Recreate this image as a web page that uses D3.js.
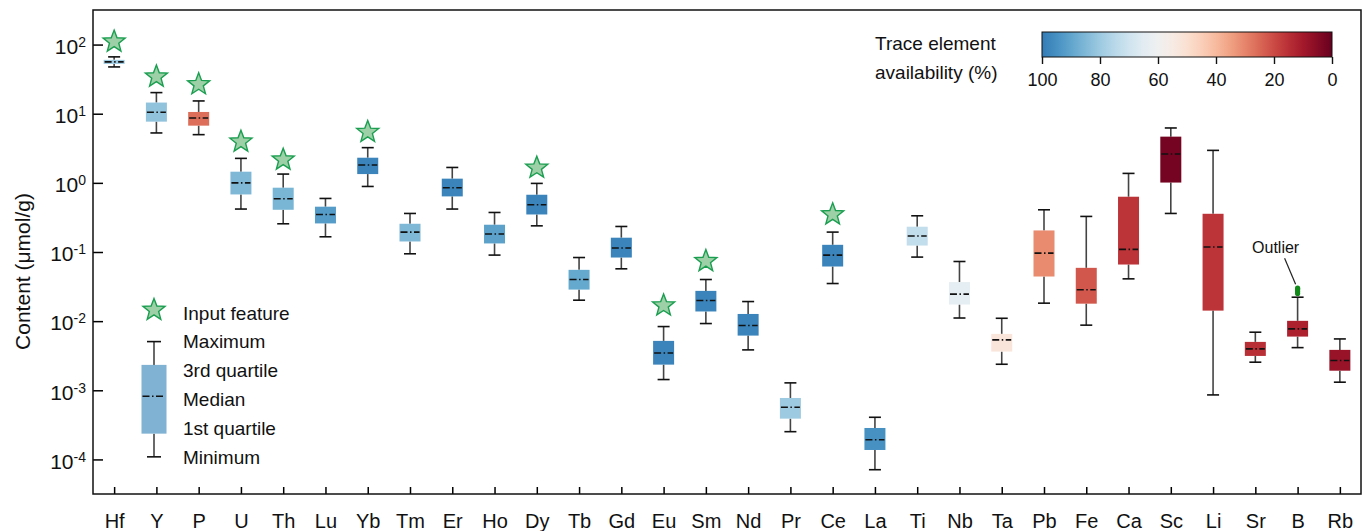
<!DOCTYPE html>
<html>
<head>
<meta charset="utf-8">
<script src="https://cdn.jsdelivr.net/npm/d3@7"></script>
<style>
  body { margin: 0; background: #fff; }
  text { font-family: "Liberation Sans", Arial, Helvetica, sans-serif; fill: #111; }
</style>
</head>
<body>
<svg id="chart" width="1371" height="531"></svg>
<script>
// Trace element contents (µmol/g): five-number summaries per element
const elements = ["Hf","Y","P","U","Th","Lu","Yb","Tm","Er","Ho","Dy","Tb","Gd","Eu","Sm",
                  "Nd","Pr","Ce","La","Ti","Nb","Ta","Pb","Fe","Ca","Sc","Li","Sr","B","Rb"];
const minima  = [47.5, 5.27, 4.98, 0.418, 0.256, 0.166, 0.887, 0.0942, 0.418, 0.0902, 0.239, 0.0201,
                 0.0571, 0.00143, 0.00923, 0.00384, 0.000252, 0.0350, 0.0000710, 0.0844, 0.0111,
                 0.00238, 0.0182, 0.00875, 0.0409, 0.361, 0.000857, 0.00255, 0.00414, 0.00131];
const q1s     = [52.5, 7.68, 6.72, 0.680, 0.408, 0.259, 1.34, 0.142, 0.637, 0.133, 0.349, 0.0286,
                 0.0832, 0.00235, 0.0138, 0.00618, 0.000389, 0.0617, 0.000137, 0.124, 0.0174,
                 0.00363, 0.0442, 0.0179, 0.0659, 1.01, 0.0142, 0.00314, 0.00598, 0.00192];
const medians = [56.2, 10.5, 8.69, 1.00, 0.589, 0.349, 1.81, 0.194, 0.851, 0.182, 0.483, 0.0400,
                 0.114, 0.00347, 0.0199, 0.00863, 0.000568, 0.0902, 0.000193, 0.170, 0.0246,
                 0.00536, 0.0964, 0.0284, 0.109, 2.62, 0.118, 0.00397, 0.00773, 0.00269];
const q3s     = [60.1, 14.5, 10.6, 1.45, 0.851, 0.452, 2.31, 0.256, 1.15, 0.248, 0.673, 0.0552,
                 0.161, 0.00518, 0.0274, 0.0127, 0.000774, 0.127, 0.000285, 0.232, 0.0367,
                 0.00654, 0.205, 0.0590, 0.630, 4.66, 0.357, 0.00501, 0.0101, 0.00384];
const maxima  = [66.4, 20.2, 15.3, 2.26, 1.34, 0.595, 3.23, 0.361, 1.67, 0.373, 0.982, 0.0832,
                 0.234, 0.00835, 0.0400, 0.0192, 0.00128, 0.194, 0.000407, 0.334, 0.0729,
                 0.0110, 0.408, 0.327, 1.37, 6.22, 2.95, 0.00692, 0.0222, 0.00553];
// Trace element availability (%) used to colour each box
const availability = [80, 82, 26, 85, 86, 92, 98, 85, 98, 91, 98, 89, 98, 98, 98,
                      98, 80, 98, 95, 73, 64, 52, 31, 22, 16, 2, 16, 15, 12, 8];

// Elements used as model input features, marked with a star
const featureElements = ["Hf","Y","P","U","Th","Yb","Dy","Eu","Sm","Ce"];
const featureMarks    = [110, 34.3, 26.6, 3.93, 2.16, 5.43, 1.65, 0.0168, 0.0736, 0.349];

// Outlying samples of B
const outlierElement = "B";
const outlierValues = [0.0252, 0.0268, 0.0285, 0.0300];

// Legend sample box
const legendSample = { min: 0.000109, q1: 0.000236, med: 0.00082, q3: 0.00233, max: 0.00506 };
const legendLabels = ["Input feature","Maximum","3rd quartile","Median","1st quartile","Minimum"];

const yTickExponents = [-4, -3, -2, -1, 0, 1, 2];
const availabilityTicks = [100, 80, 60, 40, 20, 0];

// ---- layout
const W = 1371, H = 531;
const plotL = 93, plotR = 1361, plotT = 10, plotB = 494;
const svg = d3.select("#chart");
svg.append("rect").attr("width", W).attr("height", H).attr("fill", "#fff");

const x = d3.scalePoint().domain(elements).range([plotL, plotR]).padding(0.5);
const y = d3.scaleLog().domain([Math.pow(10, -4.5), Math.pow(10, 2.5)]).range([plotB, plotT]);
const avColor = a => d3.interpolateRdBu(0.85 * a / 100);

const boxW = 21, capW = 12;

// ---- axes
const yAxis = svg.append("g")
  .attr("transform", `translate(${plotL},0)`)
  .call(d3.axisLeft(y).tickValues(yTickExponents.map(e => Math.pow(10, e)))
        .tickSize(-10).tickPadding(7).tickFormat(""));
yAxis.select(".domain").remove();
yAxis.selectAll(".tick line").attr("stroke", "#000").attr("stroke-width", 1.5);
yAxis.selectAll(".tick text").each(function(d) {
  const t = d3.select(this).attr("font-size", 21).attr("dy", "0.42em").attr("fill", "#111");
  t.text(null);
  t.append("tspan").text("10");
  t.append("tspan").attr("dy", -7).attr("font-size", 14).text(Math.round(Math.log10(d)));
});

const xAxis = svg.append("g")
  .attr("transform", `translate(0,${plotB})`)
  .call(d3.axisBottom(x).tickSize(-7).tickPadding(20));
xAxis.select(".domain").remove();
xAxis.selectAll(".tick line").attr("stroke", "#000").attr("stroke-width", 1.5);
xAxis.selectAll(".tick text").attr("font-size", 20).attr("fill", "#111");

svg.append("rect")
  .attr("x", plotL).attr("y", plotT).attr("width", plotR - plotL).attr("height", plotB - plotT)
  .attr("fill", "none").attr("stroke", "#111").attr("stroke-width", 1.5);

svg.append("text")
  .attr("transform", `translate(30,${(193 + 350) / 2}) rotate(-90)`)
  .attr("text-anchor", "middle").attr("font-size", 21)
  .text("Content (\u03bcmol/g)");

// ---- box plots
function drawBox(g, cx, s, fill, bw, cw) {
  g.append("line").attr("x1", cx).attr("x2", cx).attr("y1", y(s.max)).attr("y2", y(s.q3))
    .attr("stroke", "#444").attr("stroke-width", 1.6);
  g.append("line").attr("x1", cx).attr("x2", cx).attr("y1", y(s.q1)).attr("y2", y(s.min))
    .attr("stroke", "#444").attr("stroke-width", 1.6);
  [s.max, s.min].forEach(v => {
    g.append("line").attr("x1", cx - cw / 2).attr("x2", cx + cw / 2).attr("y1", y(v)).attr("y2", y(v))
      .attr("stroke", "#111").attr("stroke-width", 1.6);
  });
  g.append("rect").attr("x", cx - bw / 2).attr("width", bw)
    .attr("y", y(s.q3)).attr("height", y(s.q1) - y(s.q3)).attr("fill", fill);
  g.append("line").attr("x1", cx - bw / 2 + 1).attr("x2", cx + bw / 2 - 1)
    .attr("y1", y(s.med)).attr("y2", y(s.med))
    .attr("stroke", "#111").attr("stroke-width", 1.6)
    .attr("stroke-dasharray", "7,2.5,1.5,2.5");
}

const boxes = svg.append("g");
elements.forEach((el, i) => {
  drawBox(boxes.append("g"), x(el),
    { min: minima[i], q1: q1s[i], med: medians[i], q3: q3s[i], max: maxima[i] },
    avColor(availability[i]), boxW, capW);
});

// ---- stars for input features
function starPath(R, r) {
  const pts = [];
  for (let k = 0; k < 10; k++) {
    const a = -Math.PI / 2 + k * Math.PI / 5;
    const rad = k % 2 === 0 ? R : r;
    pts.push([rad * Math.cos(a), rad * Math.sin(a)]);
  }
  return "M" + pts.map(p => p.join(",")).join("L") + "Z";
}
const star = starPath(11.6, 4.9);
svg.append("g").selectAll("path").data(featureElements).join("path")
  .attr("d", star)
  .attr("transform", (d, i) => `translate(${x(d)},${y(featureMarks[i])})`)
  .attr("fill", "#9dd0a6").attr("stroke", "#1a9e50").attr("stroke-width", 1.4);

// ---- outliers with annotation
const ox = x(outlierElement);
svg.append("g").selectAll("circle").data(outlierValues).join("circle")
  .attr("cx", ox).attr("cy", d => y(d)).attr("r", 2.6).attr("fill", "#128a1a");
const oTop = y(d3.max(outlierValues));
svg.append("line").attr("x1", ox - 13).attr("y1", oTop - 30).attr("x2", ox - 2).attr("y2", oTop - 4)
  .attr("stroke", "#222").attr("stroke-width", 1.2);
svg.append("text").attr("x", ox - 22).attr("y", oTop - 35).attr("text-anchor", "middle")
  .attr("font-size", 16).text("Outlier");

// ---- legend
const lg = svg.append("g");
const lx = 154;
lg.append("path").attr("d", star).attr("transform", `translate(${lx},310)`)
  .attr("fill", "#9dd0a6").attr("stroke", "#1a9e50").attr("stroke-width", 1.4);
drawBox(lg, lx, legendSample, "#7fb2d3", 25, 14);
lg.selectAll("text.lab").data(legendLabels).join("text").attr("class", "lab")
  .attr("x", 183).attr("y", (d, i) => 313 + i * 28.8).attr("dy", "0.35em")
  .attr("font-size", 19).text(d => d);

// ---- colour bar
const cbX0 = 1042, cbX1 = 1332, cbY = 32, cbH = 25;
const cb = d3.scaleLinear().domain([100, 0]).range([cbX0, cbX1]);
const grad = svg.append("defs").append("linearGradient").attr("id", "availGrad")
  .attr("x1", "0%").attr("x2", "100%").attr("y1", "0%").attr("y2", "0%");
d3.range(0, 101, 5).forEach(p => {
  grad.append("stop").attr("offset", p + "%").attr("stop-color", avColor(100 - p));
});
svg.append("rect").attr("x", cbX0).attr("y", cbY).attr("width", cbX1 - cbX0).attr("height", cbH)
  .attr("fill", "url(#availGrad)").attr("stroke", "#111").attr("stroke-width", 1);
const cbAxis = svg.append("g").attr("transform", `translate(0,${cbY + cbH})`)
  .call(d3.axisBottom(cb).tickValues(availabilityTicks).tickSize(7).tickPadding(9));
cbAxis.select(".domain").remove();
cbAxis.selectAll(".tick line").attr("stroke", "#111").attr("stroke-width", 1.4);
cbAxis.selectAll(".tick text").attr("font-size", 18).attr("fill", "#111");

svg.append("text").attr("x", 875).attr("y", 50).attr("font-size", 19).text("Trace element");
svg.append("text").attr("x", 875).attr("y", 79).attr("font-size", 19).text("availability (%)");
</script>
</body>
</html>
